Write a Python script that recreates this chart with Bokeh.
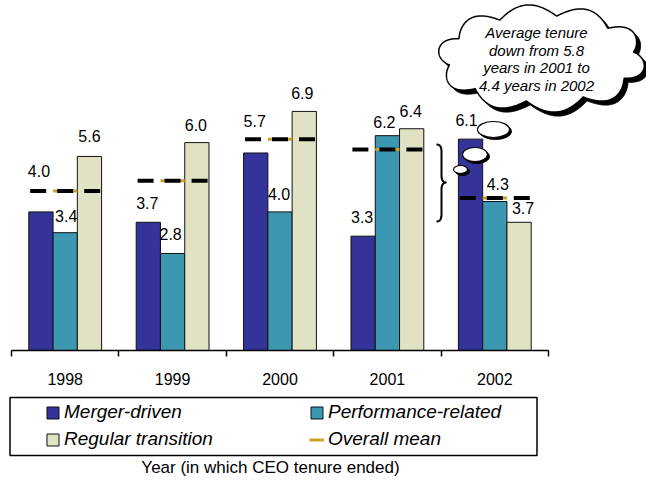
import numpy as np
from bokeh.plotting import figure
from bokeh.models import Range1d, FixedTicker, Legend, LegendItem, ColumnDataSource
from bokeh.core.properties import value
from bokeh.embed import file_html
from bokeh.resources import INLINE

# ---- data -------------------------------------------------------------
years = ["1998", "1999", "2000", "2001", "2002"]
merger_driven = [4.0, 3.7, 5.7, 3.3, 6.1]
performance_related = [3.4, 2.8, 4.0, 6.2, 4.3]
regular_transition = [5.6, 6.0, 6.9, 6.4, 3.7]
overall_mean = [4.6, 4.9, 6.1, 5.8, 4.4]

series_names = ["Merger-driven", "Performance-related", "Regular transition"]
series_colors = ["#333399", "#3C98B0", "#E1E1C3"]
mean_color = "#C9A227"

callout_lines = ["Average tenure", "down from 5.8", "years in 2001 to", "4.4 years in 2002"]
x_title = "Year (in which CEO tenure ended)"

# ---- styling ----------------------------------------------------------
# value-label nudges in screen pixels: lift above the bar top, sideways shift
label_lift = [[41, 19, 32, 19, 19], [17, 19, 18, 14, 18], [20, 18, 18, 18, 14]]
label_shift = [[-2, -1, -1, -1, -4], [1, -2, -1, -3, 3], [0, -1, -2, -1, 4]]

FONT = "Liberation Sans"
W, H = 646, 480
X0_PX, X_UNIT = 11.0, 107.4   # left end of category axis, pixels per year group
Y0_PX, Y_UNIT = 350.0, 34.65  # baseline row, pixels per year of tenure
BAR_W = 0.226
MEAN_HALF = 0.326


def dx(px):
    return (np.asarray(px, dtype=float) - X0_PX) / X_UNIT


def dy(py):
    return (Y0_PX - np.asarray(py, dtype=float)) / Y_UNIT


p = figure(width=W, height=H, output_backend="svg", toolbar_location=None,
           x_range=Range1d(float(dx(0)), float(dx(W))),
           y_range=Range1d(float(dy(H)), float(dy(0))),
           min_border=0, y_axis_location=None, outline_line_color=None)
p.grid.visible = False

# ---- category axis: ticks between groups, labels at group centres ----
n = len(years)
ax = p.xaxis[0]
ax.fixed_location = 0
ax.bounds = (0, n)
ax.ticker = FixedTicker(ticks=[i + 0.5 for i in range(n)], minor_ticks=list(range(n + 1)))
ax.major_label_overrides = {i + 0.5: y for i, y in enumerate(years)}
ax.major_tick_line_color = None
ax.major_tick_out = 0
ax.major_tick_in = 0
ax.minor_tick_out = 6
ax.minor_tick_in = 0
ax.minor_tick_line_color = "black"
ax.minor_tick_line_width = 1.5
ax.axis_line_color = "black"
ax.axis_line_width = 1.5
ax.major_label_text_font = FONT
ax.major_label_text_font_size = "16px"
ax.major_label_text_color = "black"
ax.major_label_standoff = 16

# ---- bars + value labels ----------------------------------------------
bars = []
for k, (vals, name, color) in enumerate(
        zip([merger_driven, performance_related, regular_transition], series_names, series_colors)):
    xs = [i + 0.5 + (k - 1) * BAR_W for i in range(n)]
    src = ColumnDataSource(dict(
        x=xs, top=vals, label=[f"{v:.1f}" for v in vals],
        yo=[-l for l in label_lift[k]], xo=label_shift[k]))
    r = p.vbar(x="x", top="top", bottom=0, width=BAR_W, source=src,
               fill_color=color, line_color="#111111", line_width=1)
    bars.append(r)
    p.text(x="x", y="top", text="label", source=src, x_offset="xo", y_offset="yo",
           text_align="center", text_baseline="middle", text_color="black",
           text_font=value(FONT), text_font_size="16px")

# ---- overall mean: gold marker under a black dashed bar ---------------
centres = [i + 0.5 for i in range(n)]
gold = p.segment(x0=[c - BAR_W / 2 for c in centres], x1=[c + BAR_W / 2 for c in centres],
                 y0=overall_mean, y1=overall_mean, line_color=mean_color, line_width=3)
p.segment(x0=[c - MEAN_HALF for c in centres], x1=[c + MEAN_HALF for c in centres],
          y0=overall_mean, y1=overall_mean, line_color="black", line_width=4,
          line_dash="16 11")

# ---- thought-cloud callout ---------------------------------------------
cx, cy, a, b, depth, lobes = 541.0, 58.0, 93.0, 43.0, 11.0, 10
t = np.linspace(0, 2 * np.pi, 900)
nx, ny = b * np.cos(t), a * np.sin(t)
nn = np.hypot(nx, ny)
bump = depth * np.abs(np.sin(lobes * (t + 0.15) / 2))
cloud_x = cx + a * np.cos(t) + bump * nx / nn
cloud_y = cy + b * np.sin(t) + bump * ny / nn
p.patch(dx(cloud_x + 4), dy(cloud_y + 4), fill_color="black", line_color="black")
p.patch(dx(cloud_x), dy(cloud_y), fill_color="white", line_color="black", line_width=1.5)
for j, line in enumerate(callout_lines):
    p.text(x=[float(dx(536))], y=[float(dy(32 + 17.5 * j))], text=[line],
           text_align="center", text_baseline="middle", text_color="black",
           text_font=value(FONT), text_font_style="italic", text_font_size="15px")

bubbles = [(493, 129, 32, 16), (474.5, 154, 25, 14), (460, 169, 14, 8)]
for bx, by, bw, bh in bubbles:
    p.ellipse(x=[float(dx(bx + 2))], y=[float(dy(by + 2))], width=bw, height=bh,
              width_units="screen", height_units="screen",
              fill_color="black", line_color="black")
    p.ellipse(x=[float(dx(bx))], y=[float(dy(by))], width=bw, height=bh,
              width_units="screen", height_units="screen",
              fill_color="white", line_color="black", line_width=1.2)

# ---- curly brace grouping the 2001 -> 2002 change ----------------------


def qbez(p0, p1, p2, m=14):
    s = np.linspace(0, 1, m)[:, None]
    p0, p1, p2 = (np.array(q, dtype=float) for q in (p0, p1, p2))
    return (1 - s) ** 2 * p0 + 2 * (1 - s) * s * p1 + s ** 2 * p2


brace = np.vstack([
    qbez((436, 144), (441, 144), (441, 151)),
    [[441, 175]],
    qbez((441, 175), (441, 182), (446, 182)),
    qbez((446, 182), (441, 182), (441, 189)),
    [[441, 214]],
    qbez((441, 214), (441, 221), (436, 221)),
])
p.line(dx(brace[:, 0]), dy(brace[:, 1]), line_color="black", line_width=2)

# ---- legend ------------------------------------------------------------
p.quad(left=[float(dx(9.5))], right=[float(dx(536.5))], top=[float(dy(397))], bottom=[float(dy(455))],
       fill_color=None, line_color="black", line_width=1.5)
leg_kw = dict(glyph_width=15, glyph_height=15, label_standoff=4, label_height=22, spacing=5,
              padding=0, margin=0, border_line_color=None, background_fill_alpha=0,
              label_text_font=FONT, label_text_font_style="italic", label_text_font_size="19px",
              label_text_color="black")
leg1 = Legend(items=[LegendItem(label=series_names[0], renderers=[bars[0]]),
                     LegendItem(label=series_names[2], renderers=[bars[2]])],
              location=(45, 30), **leg_kw)
leg2 = Legend(items=[LegendItem(label=series_names[1], renderers=[bars[1]]),
                     LegendItem(label="Overall mean", renderers=[gold])],
              location=(309, 30), **leg_kw)
p.add_layout(leg1)
p.add_layout(leg2)

p.text(x=[float(dx(270))], y=[float(dy(467))], text=[x_title], text_align="center",
       text_baseline="middle", text_color="black", text_font=value(FONT), text_font_size="17px")

open("out.html", "w").write(file_html(p, INLINE))
